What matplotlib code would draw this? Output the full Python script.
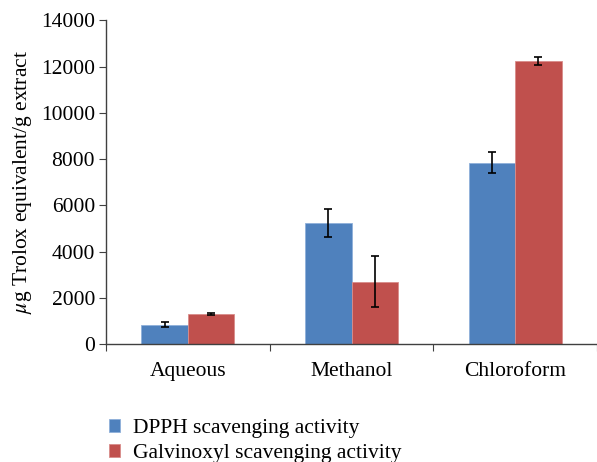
import matplotlib
matplotlib.use("Agg")
import matplotlib.pyplot as plt
import numpy as np

categories = ["Aqueous", "Methanol", "Chloroform"]
dpph = [850, 5250, 7850]
dpph_err = [100, 600, 450]
galv = [1310, 2700, 12230]
galv_err = [40, 1100, 180]
series_names = ["DPPH scavenging activity", "Galvinoxyl scavenging activity"]
yticks = [0, 2000, 4000, 6000, 8000, 10000, 12000, 14000]

plt.rcParams['font.family'] = ['Liberation Serif', 'DejaVu Serif']
plt.rcParams['mathtext.fontset'] = 'stix'
FS = 15.5

fig = plt.figure(figsize=(5.97, 4.62), dpi=100)
ax = fig.add_axes([106/597, 117.7/462, 1 - 106/597, 324/462])

x = np.arange(len(categories))
w = 0.285
blue = "#4F81BD"
red = "#C0504D"
b1 = ax.bar(x - w/2, dpph, w, color=blue, edgecolor="#8FB0DA", linewidth=0.6,
            yerr=dpph_err, error_kw=dict(ecolor="black", elinewidth=1.2, capsize=3, capthick=1.2),
            label=series_names[0])
b2 = ax.bar(x + w/2, galv, w, color=red, edgecolor="#D98C8A", linewidth=0.6,
            yerr=galv_err, error_kw=dict(ecolor="black", elinewidth=1.2, capsize=3, capthick=1.2),
            label=series_names[1])

ax.set_xlim(-0.5, 2.449)
ax.set_ylim(0, 14000)
ax.set_yticks(yticks)
ax.set_yticklabels([str(v) for v in yticks], fontsize=FS)
ax.set_xticks([-0.5, 0.5, 1.5, 2.5])
ax.set_xticklabels([])
ax.set_xticks(x, minor=True)
ax.set_xticklabels(categories, minor=True, fontsize=FS)
ax.tick_params(axis='x', which='minor', length=0, pad=13)
ax.tick_params(axis='x', which='major', length=5, direction='out', color="#404040")
ax.tick_params(axis='y', length=5, direction='out', color="#404040", pad=3)

for s in ["top", "right"]:
    ax.spines[s].set_visible(False)
for s in ["left", "bottom"]:
    ax.spines[s].set_color("#404040")
    ax.spines[s].set_linewidth(1.0)

ax.set_ylabel(r"$\mu$g Trolox equivalent/g extract", fontsize=FS, labelpad=5)

fig.legend(handles=[b1, b2], labels=series_names, loc="upper left",
           bbox_to_anchor=(100/597, 1 - 410/462), frameon=False, fontsize=FS,
           handlelength=0.55, handleheight=0.55, handletextpad=0.6, labelspacing=0.3,
           borderaxespad=0)

fig.savefig("out.png", dpi=100)
